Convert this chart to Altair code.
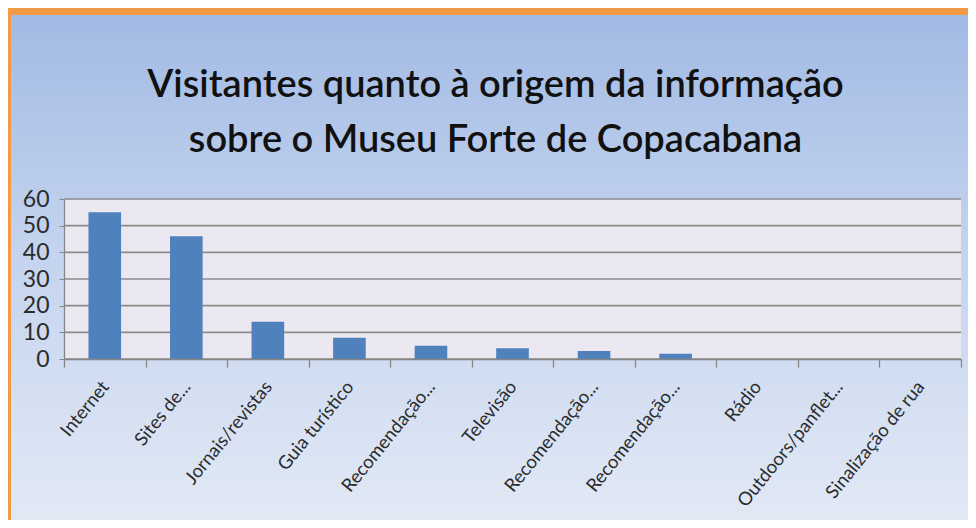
import altair as alt
import pandas as pd

categories = ["Internet", "Sites de...", "Jornais/revistas", "Guia turístico",
              "Recomendação...", "Televisão", "Recomendação...", "Recomendação...",
              "Rádio", "Outdoors/panflet...", "Sinalização de rua"]
values = [55, 46, 14, 8, 5, 4, 3, 2, 0, 0, 0]
y_ticks = [0, 10, 20, 30, 40, 50, 60]
title_lines = ["Visitantes quanto à origem da informação",
               "sobre o Museu Forte de Copacabana"]

# unique keys so the repeated "Recomendação..." labels get their own band
keys = [f"{i:02d}" for i in range(len(categories))]
df = pd.DataFrame({"key": keys, "cat": categories, "v": values})
label_expr = "{" + ",".join(f"'{k}':'{c}'" for k, c in zip(keys, categories)) + "}[datum.value]"

W, H = 897, 160
PL, PT, PR, PB = 56, 191, 7, 161
FONT = "Lato"

xscale = alt.Scale(paddingInner=0, paddingOuter=0)
yscale = alt.Scale(domain=[0, 60])

yaxis = alt.Axis(values=y_ticks, labelFontSize=23, labelFont=FONT,
                 labelColor="#2b2b2b", labelPadding=10, tickSize=5,
                 tickColor="#868686", domainColor="#868686", domainWidth=1.3,
                 grid=False, zindex=1)

bg = alt.Chart(alt.Data(values=[{}])).mark_rect(
    fill=alt.Gradient(gradient="linear",
                      stops=[alt.GradientStop(color="#a2bae4", offset=0),
                             alt.GradientStop(color="#c3d3ee", offset=0.45),
                             alt.GradientStop(color="#e2e9f5", offset=1)],
                      x1=0, y1=0, x2=0, y2=1)
).encode(x=alt.value(-PL + 3), x2=alt.value(W + PR), y=alt.value(-PT + 7), y2=alt.value(H + PB))

plotbg = alt.Chart(alt.Data(values=[{}])).mark_rect(fill="#ece8f1").encode(
    x=alt.value(0), x2=alt.value(W), y=alt.value(0), y2=alt.value(H))

grid = alt.Chart(pd.DataFrame({"g": y_ticks})).mark_rule(color="#8c8c8c", strokeWidth=1.6).encode(
    y=alt.Y("g:Q", scale=yscale, axis=yaxis, title=None))

bars = alt.Chart(df).mark_bar(color="#4f81bd", width=alt.RelativeBandSize(0.4)).encode(
    x=alt.X("key:N", scale=xscale, sort=None, title=None,
            axis=alt.Axis(labelExpr=label_expr, labelAngle=-51, labelAlign="right",
                          labelBaseline="middle", labelFontSize=18.5, labelFont=FONT,
                          labelColor="#2b2b2b", labelPadding=16, tickBand="extent",
                          tickSize=8, tickColor="#868686", tickWidth=1.3,
                          domainColor="#868686", domainWidth=1.5, zindex=1)),
    y=alt.Y("v:Q", scale=yscale, title=None, axis=yaxis),
)

chart = alt.layer(bg, plotbg, grid, bars).properties(
    width=W, height=H,
    padding={"left": PL, "top": PT, "right": PR, "bottom": PB},
    autosize=alt.AutoSizeParams(type="none"),
    background="#f39a45",
    title=alt.TitleParams(title_lines, fontSize=38, font=FONT, fontWeight=600,
                          color="#111111", anchor="middle", dx=-17, offset=-145,
                          lineHeight=55),
).configure_view(stroke=None)

chart.save("out.html", embed_options={"renderer": "svg", "actions": False})
